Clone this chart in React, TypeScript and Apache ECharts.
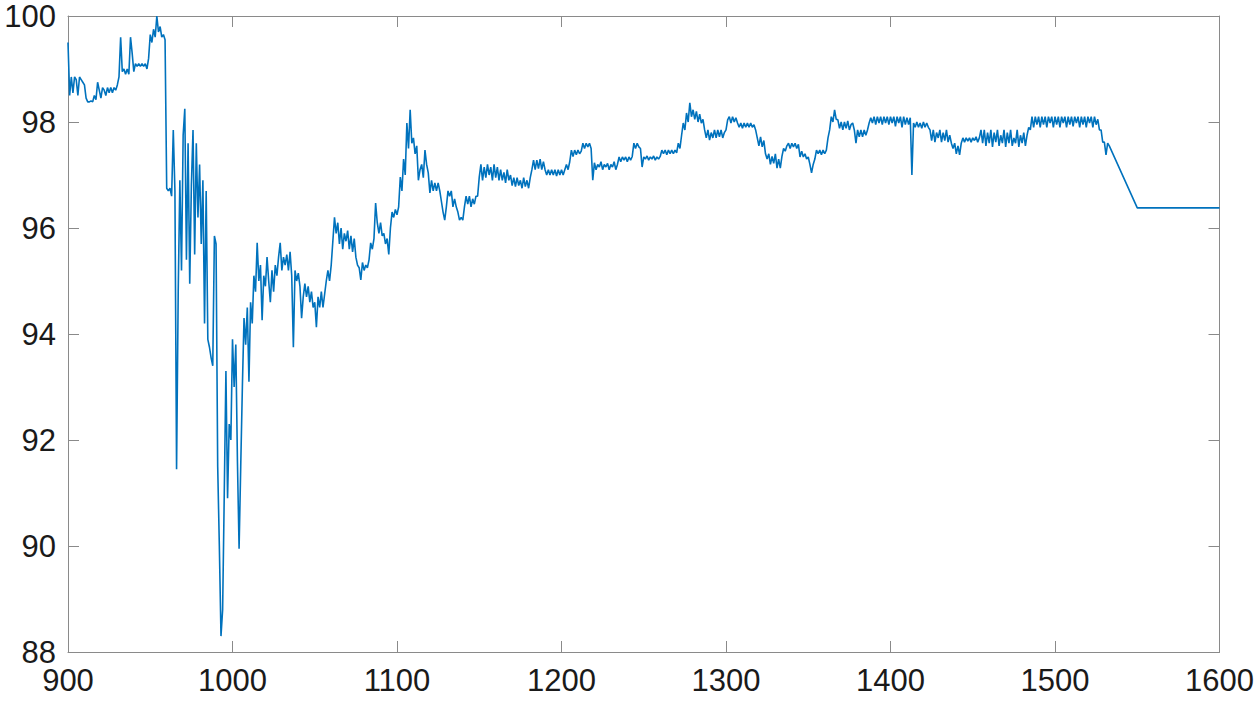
import React, { useEffect, useRef } from "react";
import * as echarts from "echarts";

// Samples at 1-unit spacing; each segment starts at the given x
const SEG_900_START = 900;
const SEG_900 = [
  99.5, 98.5, 98.85, 98.55, 98.85, 98.8, 98.5, 98.85, 98.8, 98.75,
  98.7, 98.45, 98.38, 98.38, 98.4, 98.38, 98.5, 98.42, 98.75, 98.6,
  98.45, 98.65, 98.6, 98.5, 98.65, 98.55, 98.65, 98.55, 98.65, 98.6,
  98.7, 98.85, 99.6, 98.95, 99.0, 98.9, 99.0, 98.9, 99.6, 99.3,
  98.95, 99.1, 99.05, 99.1, 99.05, 99.1, 99.05, 99.1, 99.0, 99.2,
  99.65, 99.5, 99.75, 99.6, 100.0, 99.7, 99.8, 99.6, 99.65, 99.55,
];
const SEG_960_START = 960;
const SEG_960 = [
  96.75, 96.7, 96.75, 96.6, 97.85, 96.7, 91.45, 94.8, 96.9, 95.2,
  97.75, 98.25, 95.4, 97.6, 94.95, 96.8, 97.85, 95.5, 97.6, 96.2,
  97.2, 95.7, 96.9, 94.2, 96.7, 93.9, 93.75, 93.55, 93.4, 95.85,
  95.7, 91.5, 90.0, 88.3, 88.8, 91.0, 93.3, 90.9, 92.3, 92.0,
  93.9, 93.0, 93.8, 91.6, 89.95, 91.5, 93.0, 94.3, 93.8, 94.5,
  93.1, 94.6, 94.2, 95.1, 94.8, 95.72, 95.0, 95.3, 94.26, 95.1,
  94.9, 95.45, 95.0, 94.6, 95.2, 94.8, 95.3, 95.1, 95.45, 95.72,
];
const SEG_1030_START = 1030;
const SEG_1030 = [
  95.2, 95.45, 95.3, 95.5, 95.2, 95.55, 95.1, 93.75, 95.2, 95.0,
  95.15, 94.9, 94.3, 94.7, 94.95, 94.7, 94.9, 94.6, 94.8, 94.5,
  94.6, 94.13, 94.7, 94.5, 94.8, 94.5, 94.75, 95.0, 95.2, 95.0,
  95.3, 95.75, 96.2, 95.9, 96.1, 95.7, 96.0, 95.6, 95.9, 95.75,
  95.95, 95.6, 95.85, 95.55, 95.8, 95.45, 95.3, 95.25, 95.02, 95.35,
  95.2, 95.3, 95.25, 95.4, 95.72, 95.6, 95.8, 96.47, 96.1, 95.9,
  96.1, 95.85, 95.9, 95.7, 95.8, 95.5, 96.0, 96.3, 96.2, 96.35,
];
const SEG_1100_START = 1100;
const SEG_1100 = [
  96.25, 96.4, 96.96, 96.7, 97.3, 97.0, 97.98, 97.5, 98.23, 97.6,
  97.7, 97.4, 97.55, 96.9, 97.1, 97.2, 96.95, 97.47, 97.2, 97.04,
  96.66, 96.9, 96.7, 96.85, 96.7, 96.85, 96.7, 96.5, 96.3, 96.15,
  96.4, 96.7, 96.6, 96.7, 96.4, 96.55, 96.4, 96.3, 96.15, 96.2,
  96.15, 96.4, 96.6, 96.45, 96.6, 96.4, 96.55, 96.45, 96.6, 96.6,
  96.96, 97.2, 96.9, 97.15, 96.95, 97.2, 97.0, 97.15, 96.9, 97.2,
  96.95, 97.15, 96.9, 97.1, 96.9, 97.05, 96.85, 97.1, 96.9, 97.0,
];
const SEG_1170_START = 1170;
const SEG_1170 = [
  96.8, 96.95, 96.78, 96.95, 96.8, 96.9, 96.75, 96.95, 96.78, 96.9,
  96.75, 96.95, 97.1, 97.28, 97.1, 97.28, 97.12, 97.3, 97.1, 97.25,
  97.1, 97.0, 97.1, 97.0, 97.1, 97.0, 97.1, 96.98, 97.1, 97.0,
  97.1, 97.0, 97.1, 97.2, 97.1, 97.25, 97.47, 97.35, 97.47, 97.38,
  97.47, 97.4, 97.45, 97.6, 97.5, 97.6, 97.53, 97.6, 97.5, 96.9,
  97.23, 97.1, 97.2, 97.15, 97.25, 97.1, 97.2, 97.15, 97.22, 97.1,
  97.2, 97.15, 97.25, 97.1, 97.2, 97.34, 97.25, 97.34, 97.28, 97.34,
];
const SEG_1240_START = 1240;
const SEG_1240 = [
  97.25, 97.34, 97.28, 97.35, 97.6, 97.5, 97.6, 97.53, 97.5, 97.15,
  97.34, 97.3, 97.36, 97.28, 97.34, 97.3, 97.36, 97.28, 97.34, 97.3,
  97.35, 97.47, 97.4, 97.47, 97.38, 97.47, 97.4, 97.47, 97.4, 97.47,
  97.42, 97.6, 97.5, 97.75, 97.98, 97.85, 98.17, 98.0, 98.36, 98.1,
  98.23, 98.05, 98.2, 98.0, 98.15, 97.98, 98.05, 97.85, 97.7, 97.85,
  97.66, 97.8, 97.7, 97.85, 97.7, 97.85, 97.72, 97.85, 97.7, 97.8,
  97.85, 98.04, 98.1, 97.98, 98.1, 98.0, 98.08, 97.98, 97.9, 97.98,
];
const SEG_1310_START = 1310;
const SEG_1310 = [
  97.88, 97.98, 97.9, 97.98, 97.9, 97.98, 97.9, 97.95, 97.85, 97.7,
  97.55, 97.72, 97.53, 97.65, 97.4, 97.3, 97.4, 97.2, 97.35, 97.22,
  97.4, 97.13, 97.3, 97.13, 97.35, 97.5, 97.45, 97.55, 97.6, 97.5,
  97.6, 97.53, 97.6, 97.5, 97.58, 97.34, 97.45, 97.34, 97.4, 97.3,
  97.34, 97.2, 97.04, 97.2, 97.3, 97.47, 97.4, 97.47, 97.38, 97.47,
  97.4, 97.47, 97.7, 97.85, 98.1, 98.0, 98.23, 98.05, 98.04, 97.88,
  98.0, 97.85, 98.0, 97.88, 98.02, 97.85, 97.95, 97.98, 97.85, 97.6,
];
const SEG_1380_START = 1380;
const SEG_1380 = [
  97.85, 97.72, 97.85, 97.72, 97.85, 97.75, 97.85, 97.98, 98.08, 97.98,
  98.1, 97.95, 98.1, 97.98, 98.1, 97.95, 98.1, 97.98, 98.1, 97.95,
  98.1, 97.98, 98.1, 97.92, 98.1, 97.98, 98.1, 97.9, 98.1, 97.95,
  98.08, 97.95, 98.08, 97.0, 97.98, 97.9, 98.0, 97.9, 97.98, 97.88,
  98.0, 97.9, 97.98, 97.9, 97.85, 97.65, 97.85, 97.62, 97.8, 97.7,
  97.85, 97.62, 97.8, 97.65, 97.85, 97.62, 97.75, 97.6, 97.5, 97.6,
  97.4, 97.55, 97.38, 97.6, 97.7, 97.62, 97.7, 97.64, 97.7, 97.62,
];
const SEG_1450_START = 1450;
const SEG_1450 = [
  97.7, 97.65, 97.72, 97.62, 97.7, 97.85, 97.6, 97.85, 97.55, 97.8,
  97.6, 97.85, 97.53, 97.8, 97.62, 97.85, 97.55, 97.75, 97.6, 97.85,
  97.53, 97.8, 97.6, 97.85, 97.55, 97.7, 97.6, 97.85, 97.53, 97.75,
  97.6, 97.8, 97.55, 97.75, 97.9, 97.85, 98.1, 97.9, 98.1, 97.95,
  98.1, 97.9, 98.1, 97.95, 98.1, 97.9, 98.1, 97.98, 98.1, 97.9,
  98.1, 97.95, 98.1, 97.9, 98.1, 97.98, 98.1, 97.9, 98.1, 97.95,
  98.1, 97.92, 98.1, 97.98, 98.1, 97.9, 98.1, 97.95, 98.1, 97.9,
  98.1, 97.98, 98.1, 97.9, 98.1, 97.95, 98.05, 97.85, 97.85, 97.62,
  97.62, 97.38, 97.6, 97.55,
];
const TAIL_X = [1550, 1600];
const TAIL_Y = [96.38, 96.38];

const X_TICKS = { min: 900, max: 1600, interval: 100 };
const Y_TICKS = { min: 88, max: 100, interval: 2 };

const SEGMENTS: [number, number[]][] = [
  [SEG_900_START, SEG_900],
  [SEG_960_START, SEG_960],
  [SEG_1030_START, SEG_1030],
  [SEG_1100_START, SEG_1100],
  [SEG_1170_START, SEG_1170],
  [SEG_1240_START, SEG_1240],
  [SEG_1310_START, SEG_1310],
  [SEG_1380_START, SEG_1380],
  [SEG_1450_START, SEG_1450],
];

export default function App() {
  const ref = useRef<HTMLDivElement>(null);
  useEffect(() => {
    if (!ref.current) return;
    const chart = echarts.init(ref.current, undefined, { renderer: "svg" });
    const data: [number, number][] = [];
    SEGMENTS.forEach(([start, ys]) => ys.forEach((y, i) => data.push([start + i, y])));
    TAIL_X.forEach((x, i) => data.push([x, TAIL_Y[i]]));

    const axisColor = "#8a8a8a";
    const font = "'Liberation Sans', Arial, Helvetica, sans-serif";
    const plain = (v: number) => String(v);
    const mkX = (pos: "bottom" | "top", labels: boolean) => ({
      type: "value",
      position: pos,
      ...X_TICKS,
      axisLine: { show: true, onZero: false, lineStyle: { color: axisColor, width: 1 } },
      axisTick: { show: true, inside: true, length: 11, lineStyle: { color: axisColor, width: 1 } },
      axisLabel: { show: labels, fontSize: 31, color: "#1a1a1a", margin: 13, fontFamily: font, formatter: plain },
      splitLine: { show: false },
    });
    const mkY = (pos: "left" | "right", labels: boolean) => ({
      type: "value",
      position: pos,
      ...Y_TICKS,
      axisLine: { show: true, onZero: false, lineStyle: { color: axisColor, width: 1 } },
      axisTick: { show: true, inside: true, length: 11, lineStyle: { color: axisColor, width: 1 } },
      axisLabel: {
        show: labels, fontSize: 31, lineHeight: 26, color: "#1a1a1a", margin: 12,
        fontFamily: font, formatter: plain,
      },
      splitLine: { show: false },
    });

    chart.setOption({
      animation: false,
      backgroundColor: "#ffffff",
      grid: { left: 68, right: 37, top: 16, bottom: 49, containLabel: false },
      xAxis: [mkX("bottom", true), mkX("top", false)],
      yAxis: [mkY("left", true), mkY("right", false)],
      series: [
        {
          type: "line",
          data,
          showSymbol: false,
          symbol: "none",
          lineStyle: { color: "#0072BD", width: 1.6 },
          xAxisIndex: 0,
          yAxisIndex: 0,
        },
      ],
    });
    return () => chart.dispose();
  }, []);
  return (
    <div
      ref={ref}
      style={{ position: "fixed", left: 0, top: 0, width: 1257, height: 701, background: "#fff" }}
    />
  );
}
